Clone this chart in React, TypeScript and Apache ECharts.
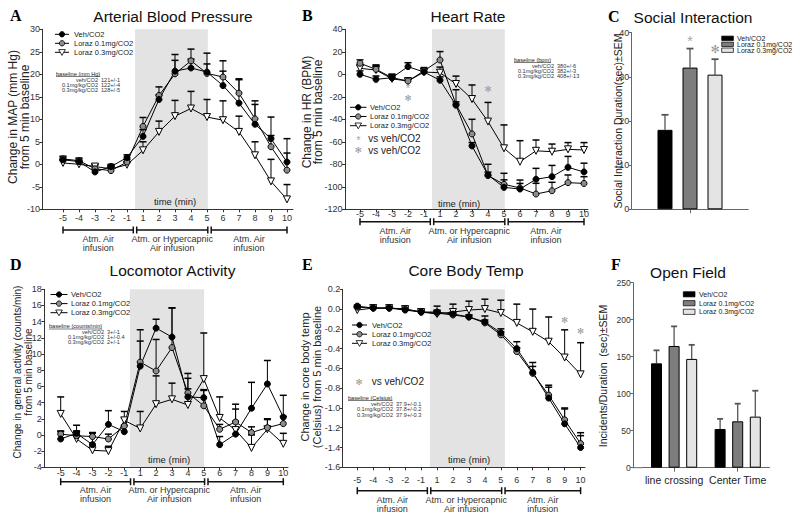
import React, { useEffect, useRef } from 'react';
import * as echarts from 'echarts';

// ---------------- data ----------------
const timeLabels = ['-5', '-4', '-3', '-2', '-1', '1', '2', '3', '4', '5', '6', '7', '8', '9', '10'];
const groupNames = ['Veh/CO2', 'Loraz 0.1mg/CO2', 'Loraz 0.3mg/CO2'];
const baselineGroups = ['veh/CO2', '0.1mg/kg/CO2', '0.3mg/kg/CO2'];
const phaseLabels = ['Atm. Air\ninfusion', 'Atm. or Hypercapnic\nAir infusion', 'Atm. Air\ninfusion'];

// A: Arterial Blood Pressure
const mapVeh = [1.0, 0.6, -1.7, -0.5, 1.5, 6.2, 14.4, 20.7, 21.4, 20.5, 17.5, 13.6, 8.9, 5.7, 0.5];
const mapVehErr = [0.6, 0.6, 0.6, 0.5, 0.6, 1.5, 1.0, 3.7, 2.0, 4.2, 3.2, 5.2, 4.4, 4.8, 5.2];
const mapLo1 = [1.2, 0.8, -1.0, -1.4, 0.5, 8.4, 15.3, 20.1, 23.0, 20.2, 19.4, 15.8, 10.1, 3.9, -1.3];
const mapLo1Err = [0.6, 0.6, 0.8, 0.6, 0.6, 2.0, 1.9, 3.0, 2.6, 2.1, 3.6, 3.2, 4.0, 2.5, 3.8];
const mapLo3 = [0.3, 0.0, -0.5, -1.0, -0.1, 3.1, 7.2, 10.7, 12.4, 10.5, 9.8, 7.2, 2.0, -3.8, -7.8];
const mapLo3Err = [0.5, 0.5, 0.5, 0.5, 0.5, 1.9, 2.4, 3.5, 3.8, 3.9, 4.3, 3.5, 3.0, 4.9, 3.3];
const mapBaseline = ['121+/-1', '122+/-4', '128+/-5'];

// B: Heart Rate
const hrVeh = [0, -4.5, -3, 6.8, 2, -5.3, -27.5, -63.7, -89.5, -100.5, -102, -93.3, -91, -82.7, -86.8];
const hrVehErr = [3, 3, 3, 3.5, 3, 3, 3, 3, 9.5, 12.5, 8, 9.7, 10, 9.7, 7.8];
const hrLo1 = [9.8, 4.4, -3, -6, 3, 12.7, -26.7, -53, -90, -97.8, -101, -106.4, -103.5, -96.3, -97];
const hrLo1Err = [3, 3.5, 3, 2, 3, 7.5, 13, 13, 3, 4, 4, 9.5, 7.5, 6.8, 6];
const hrLo3 = [5.3, 3.8, -4, -6, 2, 1.4, -8.6, -22, -42, -65.8, -77.7, -68, -68.8, -66.7, -67.3];
const hrLo3Err = [3, 4.5, 3, 2, 3, 5, 7, 12.5, 17, 20.8, 18.7, 9.6, 6.8, 6, 6.6];
const hrBaseline = ['380+/-6', '382+/-3', '408+/-13'];
const hrStars = [
  { idx: 3, val: -10.5, ch: '*' },
  { idx: 3, val: -21.3, ch: '✻' },
  { idx: 8, val: -13.3, ch: '✻' },
];

// C: Social Interaction
const socialVals = [18.0, 32.1, 30.5];
const socialErr = [3.4, 4.3, 3.5];
const socialStars = [
  { bar: 1, val: 38.6, ch: '*' },
  { bar: 2, val: 36.2, ch: '✻' },
];

// D: Locomotor Activity
const locoVeh = [-0.5, 0.2, -1.2, 1.3, 0.4, 8.5, 13.2, 12.1, 4.7, 4.6, -1.2, 0.1, 3.3, 6.3, 2.2];
const locoVehErr = [0.9, 1.0, 1.4, 1.7, 0.8, 3.1, 1.1, 3.6, 2.3, 1.0, 1.0, 1.6, 3.2, 2.9, 2.7];
const locoLo1 = [0.1, -0.1, -0.2, -0.5, 1.1, 9.0, 7.9, 10.8, 5.2, 3.6, 0.7, 1.6, 0.3, 0.9, 1.4];
const locoLo1Err = [0.4, 0.5, 0.5, 0.6, 1.0, 4.0, 3.9, 4.9, 2.4, 1.9, 0.6, 2.2, 0.7, 1.1, 0.9];
const locoLo3 = [2.6, -0.5, -1.9, -2.0, 1.8, 0.8, 3.8, 4.4, 3.7, 6.9, 2.1, 0.6, -1.6, 0.7, -1.1];
const locoLo3Err = [2.1, 1.0, 0.7, 0.6, 1.1, 2.1, 3.5, 2.0, 2.0, 5.7, 2.6, 2.6, 1.6, 1.2, 1.3];
const locoBaseline = ['3+/-1', '1+/-0.4', '2+/-1'];

// E: Core Body Temp
const tempVeh = [0.03, 0.01, 0.01, -0.01, -0.03, -0.03, -0.05, -0.08, -0.13, -0.24, -0.40, -0.64, -0.90, -1.16, -1.40];
const tempVehErr = [0.01, 0.01, 0.01, 0.01, 0.02, 0.02, 0.02, 0.02, 0.06, 0.04, 0.07, 0.10, 0.13, 0.16, 0.15];
const tempLo1 = [0.02, 0.01, 0.01, 0.0, -0.03, -0.04, -0.06, -0.08, -0.14, -0.26, -0.43, -0.65, -0.87, -1.12, -1.36];
const tempLo1Err = [0.01, 0.01, 0.01, 0.01, 0.01, 0.02, 0.02, 0.02, 0.03, 0.03, 0.04, 0.07, 0.08, 0.11, 0.08];
const tempLo3 = [-0.01, 0.01, 0.01, 0.0, -0.03, -0.05, -0.03, -0.01, 0.0, -0.04, -0.14, -0.23, -0.33, -0.49, -0.66];
const tempLo3Err = [0.02, 0.01, 0.01, 0.02, 0.02, 0.08, 0.08, 0.09, 0.10, 0.13, 0.19, 0.23, 0.25, 0.28, 0.32];
const tempBaseline = ['37.9+/-0.1', '37.8+/-0.2', '37.9+/-0.3'];
const tempStars = [
  { idx: 13, val: -0.11, ch: '✻' },
  { idx: 14, val: -0.22, ch: '✻' },
];

// F: Open Field
const ofCategories = ['line crossing', 'Center Time'];
const ofVeh = [141, 52.3];
const ofVehErr = [17.6, 13.7];
const ofLo1 = [164.5, 62.7];
const ofLo1Err = [26.5, 23.8];
const ofLo3 = [147, 69];
const ofLo3Err = [19, 35];

// ---------------- styles ----------------
const SANS = '"Liberation Sans", Arial, Helvetica, sans-serif';
const SERIF = '"Liberation Serif", "Times New Roman", serif';
const SYM = '"DejaVu Sans", sans-serif';
const AX = '#333';
const BAR_AX = '#666';
const markerFill = ['#000000', '#8c8c8c', '#ffffff'];
const barFill = ['#000000', '#7d7d7d', '#e4e4e4'];
const tIdx = timeLabels.map((_, i) => i);

const errRender = (capW: number, color: string, lw: number, offsets: number[] | null) => (params: any, api: any) => {
  const x = api.value(0);
  const y = api.value(1);
  const e = api.value(2);
  const s = api.value(3);
  const p0 = api.coord([x, y]);
  const p1 = api.coord([x, y + e]);
  const cx = p0[0] + (offsets ? offsets[s] : 0);
  return {
    type: 'group',
    children: [
      { type: 'line', shape: { x1: cx, y1: p0[1], x2: cx, y2: p1[1] }, style: { stroke: color, lineWidth: lw } },
      { type: 'line', shape: { x1: cx - capW / 2, y1: p1[1], x2: cx + capW / 2, y2: p1[1] }, style: { stroke: color, lineWidth: lw + 0.5 } },
    ],
  };
};

const linePanels = [
  { gi: 0, vals: [mapVeh, mapLo1, mapLo3], errs: [mapVehErr, mapLo1Err, mapLo3Err], band: [4.5, 9.05], y: [-10, 30, 5], xr: [-1.281, 14.375], lm: 4.5 },
  { gi: 1, vals: [hrVeh, hrLo1, hrLo3], errs: [hrVehErr, hrLo1Err, hrLo3Err], band: [4.5, 9.05], y: [-120, 40, 20], xr: [-0.9375, 14.25], lm: 0 },
  { gi: 3, vals: [locoVeh, locoLo1, locoLo3], errs: [locoVehErr, locoLo1Err, locoLo3Err], band: [4.35, 9.02], y: [-4, 18, 2], xr: [-1.031, 14.296], lm: 1 },
  { gi: 4, vals: [tempVeh, tempLo1, tempLo3], errs: [tempVehErr, tempLo1Err, tempLo3Err], band: [4.55, 9.25], y: [-1.6, 0.2, 0.2], xr: [-0.915, 14.276], lm: 8 },
];

function buildOption() {
  const grids = [
    { left: 42.5, top: 29.3, width: 250.5, height: 180 },
    { left: 345, top: 29.3, width: 243, height: 180 },
    { left: 631.7, top: 32.7, width: 116.6, height: 176.6 },
    { left: 44.3, top: 289.3, width: 243.7, height: 178 },
    { left: 342.7, top: 289.3, width: 242.3, height: 178 },
    { left: 642.3, top: 282.7, width: 127.2, height: 185 },
  ].map((g) => ({ ...g, containLabel: false, outerBoundsMode: 'none', show: false }));

  const xAxes: any[] = [];
  const yAxes: any[] = [];
  const series: any[] = [];

  const yAxis = (gi: number, min: number, max: number, interval: number, color: string, fmt?: any, offset = 0, fs = 9) => ({
    type: 'value', gridIndex: gi, min, max, interval, offset, z: 1,
    axisLine: { show: true, onZero: false, lineStyle: { color, width: 1 } },
    axisTick: { show: true, length: 3, lineStyle: { color } },
    axisLabel: { margin: 2.5, fontSize: fs, color: '#333', fontFamily: SANS, formatter: fmt },
    splitLine: { show: false },
  });

  linePanels.forEach((p) => {
    xAxes[p.gi] = {
      type: 'value', gridIndex: p.gi, min: p.xr[0], max: p.xr[1], z: 1,
      axisLine: { show: true, onZero: false, lineStyle: { color: AX, width: 1 } },
      axisTick: { show: true, length: 3, customValues: tIdx, lineStyle: { color: AX } },
      axisLabel: {
        customValues: tIdx, margin: p.lm, fontSize: 9, color: '#333', fontFamily: SANS,
        formatter: (v: number) => timeLabels[Math.round(v)] ?? '',
      },
      splitLine: { show: false },
    };
    const fmt = p.gi === 4 ? (v: number) => (Math.abs(v) < 1e-9 ? '0.0' : v.toFixed(1)) : undefined;
    yAxes[p.gi] = yAxis(p.gi, p.y[0], p.y[1], p.y[2], AX, fmt);

    // shaded phase band
    series.push({
      type: 'custom', xAxisIndex: p.gi, yAxisIndex: p.gi, z: 0, silent: true,
      data: [[p.band[0], p.band[1], p.y[0], p.y[1]]],
      encode: { x: [0, 1], y: [2, 3] },
      renderItem: (params: any, api: any) => {
        const a = api.coord([api.value(0), api.value(3)]);
        const b = api.coord([api.value(1), api.value(2)]);
        return { type: 'rect', shape: { x: a[0], y: a[1], width: b[0] - a[0], height: b[1] - a[1] }, style: { fill: '#e3e3e3' } };
      },
    });
    [2, 1, 0].forEach((s) => {
      series.push({
        type: 'custom', xAxisIndex: p.gi, yAxisIndex: p.gi, z: 2, silent: true,
        data: p.vals[s].map((v, i) => [i, v, p.errs[s][i], s]),
        encode: { x: 0, y: 1 },
        renderItem: errRender(7, '#000', 1, null),
      });
    });
    [2, 1, 0].forEach((s) => {
      series.push({
        type: 'line', name: groupNames[s], xAxisIndex: p.gi, yAxisIndex: p.gi, z: 3, silent: true,
        data: p.vals[s].map((v, i) => [i, v]),
        symbol: s === 2 ? 'triangle' : 'circle',
        symbolRotate: s === 2 ? 180 : 0,
        symbolSize: s === 2 ? 7 : 6,
        showAllSymbol: true,
        itemStyle: { color: markerFill[s], borderColor: '#000', borderWidth: 1 },
        lineStyle: { color: '#000', width: 1 },
        emphasis: { disabled: true },
      });
    });
  });

  // C: Social Interaction
  xAxes[2] = {
    type: 'category', gridIndex: 2, data: [''], z: 1,
    axisLine: { show: true, onZero: false, lineStyle: { color: BAR_AX } },
    axisTick: { show: true, alignWithLabel: true, length: 4, lineStyle: { color: BAR_AX } },
    axisLabel: { show: false },
  };
  yAxes[2] = yAxis(2, 0, 40, 10, BAR_AX);
  const cOffsets = [-25, 0, 25];
  socialVals.forEach((v, s) => {
    series.push({
      type: 'bar', name: groupNames[s], xAxisIndex: 2, yAxisIndex: 2, z: 2, silent: true,
      data: [v], barWidth: 15, barGap: '66.7%',
      itemStyle: { color: barFill[s], borderColor: '#000', borderWidth: 1 },
    });
  });
  series.push({
    type: 'custom', xAxisIndex: 2, yAxisIndex: 2, z: 1, silent: true,
    data: socialVals.map((v, s) => [0, v, socialErr[s], s]),
    encode: { x: 0, y: 1 },
    renderItem: errRender(7, '#555', 1.3, cOffsets),
  });

  // F: Open Field
  xAxes[5] = {
    type: 'category', gridIndex: 5, data: ofCategories, z: 1,
    axisLine: { show: true, onZero: false, lineStyle: { color: BAR_AX } },
    axisTick: { show: true, alignWithLabel: true, length: 4, lineStyle: { color: BAR_AX } },
    axisLabel: { interval: 0, hideOverlap: false, margin: 7, fontSize: 10.5, color: '#222', fontFamily: SANS },
  };
  yAxes[5] = yAxis(5, 0, 250, 50, BAR_AX, undefined, 9, 8.5);
  const fVals = [ofVeh, ofLo1, ofLo3];
  const fErrs = [ofVehErr, ofLo1Err, ofLo3Err];
  const fOffsets = [-17.6, 0, 17.6];
  fVals.forEach((vals, s) => {
    series.push({
      type: 'bar', name: groupNames[s], xAxisIndex: 5, yAxisIndex: 5, z: 2, silent: true,
      data: vals, barWidth: 11, barGap: '60%',
      itemStyle: { color: barFill[s], borderColor: '#000', borderWidth: 1 },
    });
  });
  const fErrData: number[][] = [];
  fVals.forEach((vals, s) => vals.forEach((v, c) => fErrData.push([c, v, fErrs[s][c], s])));
  series.push({
    type: 'custom', xAxisIndex: 5, yAxisIndex: 5, z: 1, silent: true,
    data: fErrData,
    encode: { x: 0, y: 1 },
    renderItem: errRender(6, '#555', 1.3, fOffsets),
  });

  return {
    animation: false,
    backgroundColor: '#ffffff',
    grid: grids,
    xAxis: xAxes,
    yAxis: yAxes,
    series,
  };
}

function buildGraphics(chart: any) {
  const els: any[] = [];
  const txt = (x: number, y: number, text: string, o: any = {}) => {
    const align = o.align ?? 'left';
    const valign = o.valign ?? 'middle';
    els.push({
      type: 'text', x, y, silent: true, rotation: o.rotation ?? 0, z: 20,
      style: {
        text, fill: o.color ?? '#222', fontSize: o.size ?? 10, fontFamily: o.family ?? SANS,
        fontWeight: o.weight ?? 'normal', textAlign: align, align, textVerticalAlign: valign, verticalAlign: valign,
        lineHeight: o.lh,
      },
    });
  };
  const ln = (x1: number, y1: number, x2: number, y2: number, w = 1, c = '#111') =>
    els.push({ type: 'line', silent: true, z: 20, shape: { x1, y1, x2, y2 }, style: { stroke: c, lineWidth: w } });
  const measure = (text: string, fs: number) => {
    const c = document.createElement('canvas').getContext('2d');
    if (!c) return text.length * fs * 0.5;
    c.font = `${fs}px ${SANS}`;
    return c.measureText(text).width;
  };
  const px = (gi: number, x: any, y: number) => chart.convertToPixel({ gridIndex: gi }, [x, y]) as number[];

  // panel letters
  [['A', 10, 15], ['B', 302, 15], ['C', 608, 16], ['D', 10, 264], ['E', 302, 264], ['F', 611, 264]].forEach(([t, x, y]) =>
    txt(x as number, y as number, t as string, { size: 16, family: SERIF, weight: 'bold', color: '#000' }));

  // titles
  const title = (x: number, y: number, t: string) => txt(x, y, t, { size: 15.5, align: 'center', color: '#111' });
  title(173, 16, 'Arterial Blood Pressure');
  title(468, 16, 'Heart Rate');
  title(693, 17, 'Social Interaction');
  title(172.5, 270, 'Locomotor Activity');
  title(466, 270, 'Core Body Temp');
  title(688, 272.5, 'Open Field');

  // y-axis titles
  const R = Math.PI / 2;
  txt(19, 117, 'Change in MAP (mm Hg)\nfrom 5 min baseline', { rotation: R, align: 'center', size: 12, lh: 12 });
  txt(312.5, 112, 'Change in HR (BPM)\nfrom 5 min baseline', { rotation: R, align: 'center', size: 12, lh: 11.6 });
  txt(617.5, 121, 'Social Interaction Duration(sec)±SEM', { rotation: R, align: 'center', size: 10.5 });
  txt(22.5, 372, 'Change in general activity (counts/min)\nfrom 5 min baseline', { rotation: R, align: 'center', size: 10, lh: 11 });
  txt(311, 377, 'Change in core body temp\n(Celsius) from 5 min baseline', { rotation: R, align: 'center', size: 11, lh: 11.7 });
  txt(603.3, 376, 'Incidents/Duration  (sec)±SEM', { rotation: R, align: 'center', size: 10.5 });

  // time labels inside the band
  txt(175, 201, 'time (min)', { size: 9.5, align: 'center' });
  txt(459, 203.5, 'time (min)', { size: 9.5, align: 'center' });
  txt(169, 459, 'time (min)', { size: 9.5, align: 'center' });
  txt(469, 459, 'time (min)', { size: 9.5, align: 'center' });

  // phase brackets
  const brackets = (gi: number, yb: number, ly: number) => {
    const X = (i: number) => px(gi, i, 0)[0];
    const a = X(4.5);
    const b = X(9) + 2.5;
    const segs = [[X(0), a - 1.7], [a + 1.7, b - 1.7], [b + 1.7, X(14)]];
    segs.forEach(([s0, s1], k) => {
      ln(s0, yb, s1, yb, 1.5);
      ln(s0, yb - 3.5, s0, yb + 3.5, 1.5);
      ln(s1, yb - 3.5, s1, yb + 3.5, 1.5);
      txt((s0 + s1) / 2, ly, phaseLabels[k], { size: 9, align: 'center', lh: 9, color: '#333' });
    });
  };
  brackets(0, 230, 243.8);
  brackets(1, 221.7, 235.3);
  brackets(3, 481.7, 494.7);
  brackets(4, 490.7, 504.2);

  // line legends
  const lineLegend = (x: number, w: number, tx: number, ys: number[], fs: number) => {
    ys.forEach((y, s) => {
      ln(x, y, x + w, y, 1, '#000');
      const cx = x + w / 2;
      if (s < 2) {
        els.push({ type: 'circle', silent: true, z: 21, shape: { cx, cy: y, r: 2.7 }, style: { fill: markerFill[s], stroke: '#000', lineWidth: 0.8 } });
      } else {
        els.push({ type: 'polygon', silent: true, z: 21, shape: { points: [[cx - 3.3, y - 2.7], [cx + 3.3, y - 2.7], [cx, y + 3.1]] }, style: { fill: '#fff', stroke: '#000', lineWidth: 0.8 } });
      }
      txt(tx, y, groupNames[s], { size: fs });
    });
  };
  lineLegend(55, 14, 74, [34.3, 43.3, 52.3], 7.5);
  lineLegend(350, 16.5, 370, [107.3, 116.5, 125.7], 7.5);
  lineLegend(50.5, 17, 71, [294.5, 303.6, 312.7], 7.5);
  lineLegend(352, 15, 372, [325, 334.2, 343.3], 7.5);

  // bar legends
  const barLegend = (x: number, tx: number, ys: number[], fs: number, h: number) => {
    ys.forEach((y, s) => {
      els.push({ type: 'rect', silent: true, z: 21, shape: { x, y: y - h / 2, width: 11.7, height: h }, style: { fill: barFill[s], stroke: '#000', lineWidth: 0.7 } });
      txt(tx, y, groupNames[s], { size: fs });
    });
  };
  barLegend(721.7, 737, [38.3, 44.3, 50.2], 7, 4.4);
  barLegend(683.3, 699, [294.3, 303.2, 311.8], 7, 5.2);

  // baseline boxes
  const FS = 5.6;
  const baselineBox = (x: number, y: number, header: string, nameRight: number, valLeft: number, rows: number[], values: string[]) => {
    txt(x, y, header, { size: FS, color: '#222' });
    ln(x, y + 3, x + measure(header, FS), y + 3, 0.6, '#222');
    rows.forEach((ry, i) => {
      txt(nameRight, ry, baselineGroups[i], { size: FS, align: 'right', color: '#333' });
      txt(valLeft, ry, values[i], { size: FS, color: '#333' });
    });
  };
  baselineBox(56, 73.5, 'baseline (mm Hg)', 98, 101, [79.5, 84.8, 90], mapBaseline);
  baselineBox(514, 59.5, 'baseline (bpm)', 554, 557, [65.5, 71, 76.3], hrBaseline);
  baselineBox(49, 326, 'baseline (counts/min)', 104, 107, [331.5, 336.8, 342], locoBaseline);
  baselineBox(348, 397.5, 'baseline (Celsius)', 393, 396, [403.5, 409, 414.5], tempBaseline);

  // significance stars
  const star = (x: number, y: number, ch: string, big = 1) => {
    if (ch === '*') txt(x, y + 1.8 * big, '*', { size: 11 * big, color: '#a8a8a8', align: 'center' });
    else txt(x, y, '✻', { size: 8.5 * big, color: '#9a9a9a', align: 'center', family: SYM });
  };
  hrStars.forEach((s) => {
    const p = px(1, s.idx, s.val);
    star(p[0], p[1], s.ch);
  });
  tempStars.forEach((s) => {
    const p = px(4, s.idx, s.val);
    star(p[0], p[1], s.ch);
  });
  socialStars.forEach((s) => {
    const p = px(2, 0, s.val);
    star(p[0] + [-25, 0, 25][s.bar], p[1], s.ch, 1.3);
  });
  // legend entries for stars
  star(358.3, 138.3, '*');
  txt(368.3, 138.3, 'vs veh/CO2', { size: 10 });
  star(358.3, 150, '✻');
  txt(368.3, 150, 'vs veh/CO2', { size: 10 });
  star(359, 381.7, '✻');
  txt(371.7, 381.7, 'vs veh/CO2', { size: 10 });

  // F axis line continuation to the offset y-axis
  ln(633.3, 467.7, 642.3, 467.7, 1, BAR_AX);

  return els;
}

export default function App() {
  const ref = useRef<HTMLDivElement>(null);
  useEffect(() => {
    if (!ref.current) return;
    const chart = echarts.init(ref.current, null, { renderer: 'svg' });
    chart.setOption(buildOption() as any);
    chart.setOption({ graphic: { elements: buildGraphics(chart) } } as any);
    return () => chart.dispose();
  }, []);
  return <div ref={ref} style={{ position: 'fixed', left: 0, top: 0, width: 800, height: 520, background: '#fff' }} />;
}
